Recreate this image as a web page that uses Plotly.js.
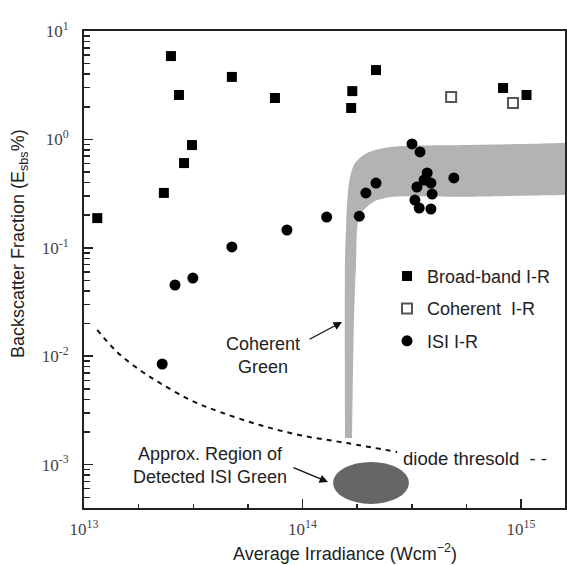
<!DOCTYPE html>
<html>
<head>
<meta charset="utf-8">
<script src="https://cdn.plot.ly/plotly-3.0.1.min.js"></script>
<style>html,body{margin:0;padding:0;background:#fff}#chart{width:567px;height:565px}</style>
</head>
<body>
<div id="chart"></div>
<script>
// Broad-band I-R (filled squares)
var bbX = [2.50e13, 2.72e13, 3.12e13, 2.87e13, 2.32e13, 1.15e13, 4.75e13, 7.48e13, 1.69e14, 1.67e14, 2.17e14, 8.28e14, 1.06e15];
var bbY = [5.87, 2.57, 0.887, 0.605, 0.321, 0.188, 3.77, 2.41, 2.79, 1.95, 4.36, 2.98, 2.57];
// Coherent I-R (open squares)
var cohX = [4.79e14, 9.19e14];
var cohY = [2.46, 2.17];
// ISI I-R (filled circles)
var isiX = [2.61e13, 3.15e13, 2.28e13, 4.75e13, 8.49e13, 1.29e14, 1.82e14, 1.95e14, 2.17e14, 3.17e14, 3.45e14, 3.72e14, 3.60e14, 3.87e14, 4.93e14, 3.34e14, 3.92e14, 3.27e14, 3.42e14, 3.87e14];
var isiY = [0.0454, 0.0526, 0.00848, 0.102, 0.146, 0.192, 0.196, 0.321, 0.396, 0.908, 0.766, 0.490, 0.422, 0.396, 0.441, 0.364, 0.313, 0.276, 0.233, 0.228];
// diode threshold (dashed curve)
var diodeX = [1.15e13, 1.42e13, 1.80e13, 2.23e13, 3.06e13, 4.19e13, 6.38e13, 9.75e13, 1.60e14, 2.71e14];
var diodeY = [0.0175, 0.0109, 0.00746, 0.00566, 0.00395, 0.00306, 0.00232, 0.00187, 0.00158, 0.00131];
// Coherent Green region (grey band outline)
var bandX = [1.565e14, 1.565e14, 1.582e14, 1.60e14, 1.65e14, 1.74e14, 1.97e14, 2.52e14, 5.85e14, 1.0e15, 1.6e15, 2.5e15, 2.5e15, 1.6e15, 1.0e15, 5.85e14, 2.52e14, 2.11e14, 1.87e14, 1.79e14, 1.76e14, 1.72e14, 1.685e14];
var bandY = [1.76e-3, 0.0772, 0.15, 0.259, 0.450, 0.605, 0.749, 0.851, 0.888, 0.905, 0.925, 0.94, 0.31, 0.307, 0.302, 0.296, 0.294, 0.265, 0.214, 0.169, 0.0772, 0.0216, 1.76e-3];
// Approx. region of detected ISI green (ellipse bounds)
var ellX = [1.38e14, 3.07e14];
var ellY = [4.34e-4, 1.06e-3];
// tick labels
var xTickVals = [1e13, 1e14, 1e15];
var xTickText = ['10<sup>13</sup>', '10<sup>14</sup>', '10<sup>15</sup>'];
var yTickVals = [1e-3, 1e-2, 1e-1, 1, 10];
var yTickText = ['10<sup>-3</sup>', '10<sup>-2</sup>', '10<sup>-1</sup>', '10<sup>0</sup>', '10<sup>1</sup>'];

// minor tick positions on x (quarter decades)
var xMinor = [];
for (var i = 1; i < 9; i++) { if (i % 4 !== 0) xMinor.push(Math.pow(10, 13 + 0.25 * i)); }

var SANS = 'Liberation Sans, Arial, Helvetica, sans-serif';
var SERIF = 'Liberation Serif, Times New Roman, serif';

var traces = [
  {x: bandX, y: bandY, mode: 'lines', fill: 'toself', fillcolor: '#b3b3b3',
   line: {width: 0, color: '#b3b3b3', shape: 'spline', smoothing: 0.8}, showlegend: false, hoverinfo: 'skip'},
  {x: diodeX, y: diodeY, mode: 'lines', line: {color: '#111', width: 2, dash: '5px,5px', shape: 'spline'},
   showlegend: false, hoverinfo: 'skip'},
  {x: bbX, y: bbY, mode: 'markers', name: 'Broad-band I-R', legendgroup: 'a',
   marker: {symbol: 'square', size: 10, color: '#000'}},
  {x: cohX, y: cohY, mode: 'markers', name: 'Coherent  I-R', legendgroup: 'b',
   marker: {symbol: 'square-open', size: 10, color: '#555', line: {width: 2, color: '#555'}}},
  {x: isiX, y: isiY, mode: 'markers', name: 'ISI I-R', legendgroup: 'c',
   marker: {symbol: 'circle', size: 11, color: '#000'}}
];

var layout = {
  width: 567, height: 565, autosize: false,
  margin: {l: 84, r: 2, t: 31, b: 57},
  paper_bgcolor: '#fff', plot_bgcolor: '#fff',
  font: {family: SANS, size: 17, color: '#222'},
  showlegend: true,
  legend: {x: 0.63, y: 0.5245, xanchor: 'left', yanchor: 'top', bgcolor: 'rgba(0,0,0,0)',
           font: {family: SANS, size: 18, color: '#222'}, tracegroupgap: 6, traceorder: 'grouped'},
  xaxis: {type: 'log', range: [13, 15.2014], showgrid: false, zeroline: false,
          showline: true, linewidth: 2, linecolor: '#222', mirror: true,
          ticks: 'inside', ticklen: 9, tickwidth: 1.5, tickcolor: '#222',
          tickmode: 'array', tickvals: xTickVals, ticktext: xTickText, ticklabelstandoff: 5,
          tickfont: {family: SERIF, size: 17, color: '#444'},
          minor: {tickmode: 'array', tickvals: xMinor, ticks: 'inside', ticklen: 4, tickwidth: 1.5, tickcolor: '#222', showgrid: false}},
  yaxis: {type: 'log', range: [-3.4, 1], showgrid: false, zeroline: false,
          showline: true, linewidth: 2, linecolor: '#222', mirror: true,
          ticks: 'inside', ticklen: 9, tickwidth: 1.5, tickcolor: '#222',
          tickmode: 'array', tickvals: yTickVals, ticktext: yTickText, ticklabelstandoff: 10,
          tickfont: {family: SERIF, size: 17, color: '#444'},
          minor: {dtick: 'D1', ticks: 'inside', ticklen: 6, tickwidth: 1.5, tickcolor: '#222', showgrid: false}},
  shapes: [
    {type: 'circle', xref: 'x', yref: 'y', x0: ellX[0], x1: ellX[1], y0: ellY[0], y1: ellY[1],
     fillcolor: '#666', line: {width: 0}, layer: 'above'}
  ],
  annotations: [
    {xref: 'paper', yref: 'paper', x: 0.5426, y: -0.0943, xanchor: 'center', yanchor: 'middle',
     text: 'Average Irradiance (Wcm<sup>\u22122</sup>)', showarrow: false, font: {family: SANS, size: 18, color: '#222'}},
    {xref: 'paper', yref: 'paper', x: -0.133, y: 0.5535, xanchor: 'center', yanchor: 'middle', textangle: -90,
     text: 'Backscatter Fraction (E<sub>sbs</sub>%)', showarrow: false, font: {family: SANS, size: 18, color: '#222'}},
    {xref: 'x', yref: 'y', x: 13.819, y: -1.989, text: 'Coherent<br>Green', showarrow: false,
     font: {family: SANS, size: 18, color: '#222'}},
    {xref: 'x', yref: 'y', x: 14.181, y: -1.6845, ax: -34, ay: 18, text: '', showarrow: true,
     arrowhead: 2, arrowsize: 1.3, arrowwidth: 1.3, arrowcolor: '#111'},
    {xref: 'x', yref: 'y', x: 13.577, y: -3.008, text: 'Approx. Region of<br>Detected ISI Green', showarrow: false,
     font: {family: SANS, size: 18, color: '#222'}},
    {xref: 'x', yref: 'y', x: 14.1167, y: -3.1605, ax: -36, ay: -15, text: '', showarrow: true,
     arrowhead: 2, arrowsize: 1.3, arrowwidth: 1.3, arrowcolor: '#111'},
    {xref: 'x', yref: 'y', x: 14.452, y: -2.939, xanchor: 'left', text: 'diode thresold  - -', showarrow: false,
     font: {family: SANS, size: 18.5, color: '#222'}}
  ]
};

Plotly.newPlot('chart', traces, layout, {staticPlot: true, displayModeBar: false});
</script>
</body>
</html>
